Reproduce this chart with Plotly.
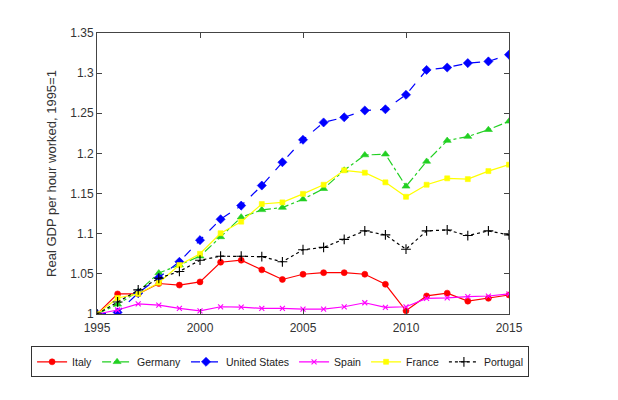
import plotly.graph_objects as go

years = list(range(1995, 2016))

italy = [1.0, 1.025, 1.025, 1.038, 1.036, 1.040, 1.0645, 1.067, 1.055, 1.043, 1.0495,
         1.0515, 1.0515, 1.0495, 1.037, 1.004, 1.0225, 1.026, 1.016, 1.0195, 1.0237]
germany = [1.0, 1.012, 1.028, 1.051, 1.061, 1.072, 1.096, 1.1206, 1.1297, 1.1326, 1.143,
           1.156, 1.179, 1.198, 1.199, 1.159, 1.19, 1.216, 1.221, 1.2295, 1.24]
usa = [1.0, 1.002, 1.026, 1.045, 1.065, 1.092, 1.118, 1.135, 1.160, 1.189, 1.217,
       1.2386, 1.245, 1.2535, 1.255, 1.273, 1.304, 1.307, 1.3125, 1.3146, 1.323]
spain = [1.0, 1.005, 1.0125, 1.011, 1.007, 1.004, 1.009, 1.0085, 1.007, 1.007, 1.006,
         1.006, 1.009, 1.014, 1.0083, 1.009, 1.0195, 1.020, 1.0216, 1.0224, 1.025]
france = [1.0, 1.02, 1.025, 1.039, 1.061, 1.075, 1.1006, 1.115, 1.137, 1.139, 1.1496,
          1.161, 1.179, 1.176, 1.164, 1.146, 1.161, 1.169, 1.168, 1.178, 1.186]
portugal = [1.0, 1.015, 1.030, 1.0445, 1.053, 1.067, 1.072, 1.072, 1.0715, 1.065, 1.080,
            1.083, 1.093, 1.1035, 1.0985, 1.0807, 1.1035, 1.1047, 1.0977, 1.1035, 1.0985]

series = [
    ("Italy", italy, "#ff0000", "solid", "circle", 6, 0.6),
    ("Germany", germany, "#22d022", "dashdot", "triangle-up", 7, 0.6),
    ("United States", usa, "#0000ff", "dash", "diamond", 7, 0.6),
    ("Spain", spain, "#ff00ff", "solid", "x-thin-open", 5, 1.1),
    ("France", france, "#ffff00", "solid", "square", 5, 0.6),
    ("Portugal", portugal, "#000000", "dot", "cross-thin-open", 7, 1.1),
]

fig = go.Figure()
for name, vals, color, dash, sym, size, lw in series:
    fig.add_trace(go.Scatter(
        x=years, y=vals, name=name, mode="lines+markers",
        line=dict(color=color, width=1.2, dash=dash),
        marker=dict(symbol=sym, size=size, color=color,
                    line=dict(color=color, width=lw)),
    ))

axis_common = dict(
    showgrid=False, zeroline=False, showline=True, linecolor="#444444", linewidth=1,
    mirror="ticks", ticks="inside", ticklen=5, tickcolor="#444444",
    tickfont=dict(family="Liberation Sans, Arial", size=12, color="#333333"),
)

fig.update_layout(
    width=618, height=400,
    margin=dict(l=97, r=109, t=33, b=86),
    paper_bgcolor="white", plot_bgcolor="white",
    font=dict(family="Liberation Sans, Arial", size=12, color="#333333"),
    xaxis=dict(range=[1995, 2015], tickvals=[1995, 2000, 2005, 2010, 2015],
               ticklabelstandoff=3, **axis_common),
    yaxis=dict(range=[1.0, 1.35], dtick=0.05, tick0=1.0,
               title=dict(text="Real GDP per hour worked, 1995=1",
                          font=dict(size=13, color="#333333"), standoff=10),
               **axis_common),
    legend=dict(orientation="h", x=-0.16, xanchor="left", y=-0.115, yanchor="top",
                bordercolor="#333333", borderwidth=1, bgcolor="white",
                font=dict(size=10.5, color="#222222"), itemwidth=30,
                tracegroupgap=0, itemclick=False),
    showlegend=True,
)

fig.write_html("out.html")
